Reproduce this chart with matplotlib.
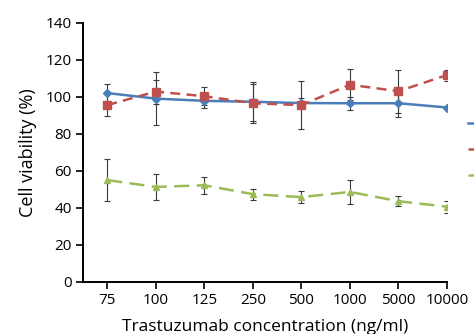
import matplotlib
matplotlib.use('Agg')
import matplotlib.pyplot as plt
from matplotlib.lines import Line2D
import numpy as np

plt.rcParams['font.family'] = ['Open Sans', 'DejaVu Sans']

# data
conc = ['75', '100', '125', '250', '500', '1000', '5000', '10000']
blue = [102.0, 99.0, 97.8, 97.3, 96.6, 96.5, 96.5, 94.2]
blue_err = [5.0, 14.5, 4.0, 10.5, 3.0, 3.5, 7.5, 1.0]
red = [95.5, 102.8, 100.3, 96.5, 95.5, 106.5, 103.0, 111.7]
red_err = [6.0, 6.5, 5.0, 10.5, 13.0, 8.5, 11.5, 3.0]
green = [55.0, 51.3, 52.2, 47.4, 45.8, 48.6, 43.6, 40.6]
green_err = [11.5, 7.0, 4.7, 3.0, 3.3, 6.5, 2.7, 3.2]

C_BLUE = '#4a7ebb'
C_RED = '#c0504d'
C_GREEN = '#9bbb59'
C_ERR = '#3a3a3a'

fig = plt.figure(figsize=(4.74, 3.34), dpi=100)
ax = fig.add_axes([0.175, 0.156, 0.768, 0.776])

x = np.arange(len(conc))
ekw = dict(ecolor=C_ERR, elinewidth=0.8, capsize=2.5, capthick=0.8, zorder=2)

ax.errorbar(x, blue, yerr=blue_err, fmt='none', **ekw)
ax.errorbar(x, red, yerr=red_err, fmt='none', **ekw)
ax.errorbar(x, green, yerr=green_err, fmt='none', **ekw)

ax.plot(x, blue, color=C_BLUE, lw=1.8, marker='D', ms=4, zorder=3)
ax.plot(x, red, color=C_RED, lw=1.8, ls=(0, (4, 2.5)), marker='s', ms=5.5, zorder=3)
ax.plot(x, green, color=C_GREEN, lw=1.8, ls=(0, (6, 3)), marker='^', ms=5, zorder=3)

ax.set_xlim(-0.5, 7)
ax.set_ylim(0, 140)
ax.set_yticks(np.arange(0, 141, 20))
ax.set_xticks(x)
ax.set_xticklabels(conc)

for s in ['top', 'right']:
    ax.spines[s].set_visible(False)
for s in ['left', 'bottom']:
    ax.spines[s].set_linewidth(1.4)
    ax.spines[s].set_color('black')
ax.tick_params(axis='both', labelsize=11, length=5, width=1.2, direction='out',
               colors='black', pad=3)

ax.set_ylabel('Cell viability (%)', fontsize=13, labelpad=6)
ax.set_xlabel('Trastuzumab concentration (ng/ml)', fontsize=12.5, labelpad=8)

# legend cut off at right edge: only the line stubs show
for yy, col, ls in [(123, C_BLUE, '-'), (149, C_RED, (0, (4, 2.5))),
                    (175, C_GREEN, (0, (6, 3)))]:
    fy = 1 - yy / 334
    fig.add_artist(Line2D([468 / 474, 1.02], [fy, fy], color=col, lw=1.8, ls=ls,
                          transform=fig.transFigure))

fig.savefig('out.png', dpi=100, facecolor='white')
